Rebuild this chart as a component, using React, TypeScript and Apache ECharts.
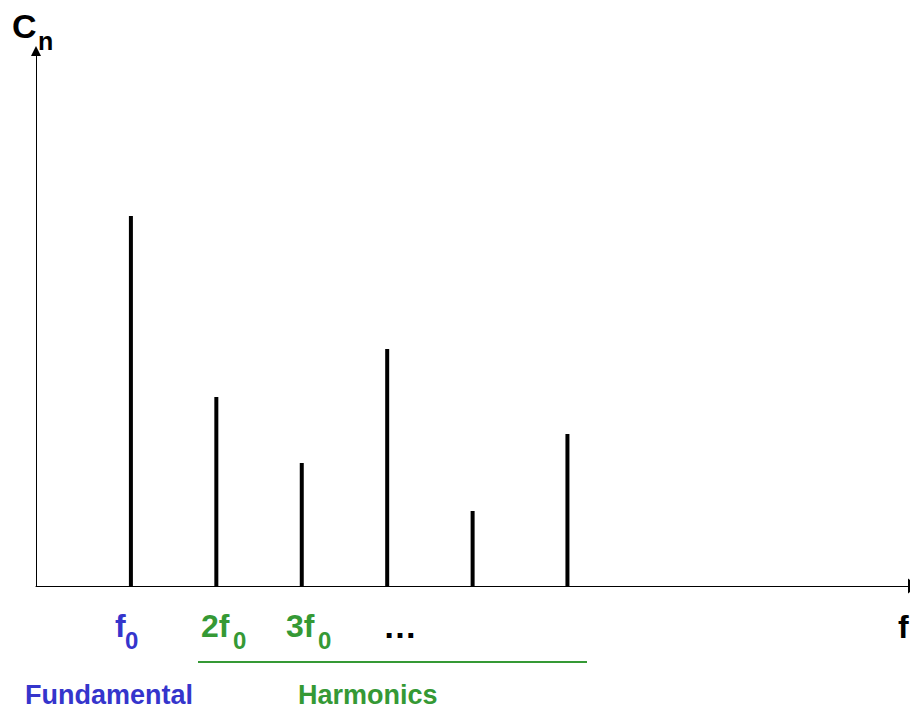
import React, { useEffect, useRef } from "react";
import * as echarts from "echarts";

// Harmonic frequencies (multiples of f0) and their amplitudes Cn
const harmonicFreqs = [1, 2, 3, 4, 5, 6.11];
const amplitudes = [3.7, 1.89, 1.23, 2.37, 0.75, 1.52];

const BLUE = "#3535CC";
const GREEN = "#359935";
const FONT = "'Liberation Sans', Arial, sans-serif";

export default function App() {
  const ref = useRef<HTMLDivElement>(null);
  useEffect(() => {
    document.body.style.margin = "0";
    const chart = echarts.init(ref.current!, null, { renderer: "svg" });
    const txt = (x: number, y: number, text: string, size: number, fill: string) => ({
      type: "text",
      x,
      y,
      style: {
        text,
        fontSize: size,
        fontWeight: "bold",
        fontFamily: FONT,
        fill,
        align: "left",
        verticalAlign: "middle",
        lineHeight: Math.round(size * 0.8),
      },
    });
    chart.setOption({
      animation: false,
      grid: { left: 36, right: 0, top: 51, bottom: 123 },
      xAxis: {
        type: "value",
        min: -0.111,
        max: 10.12,
        axisLine: {
          show: true,
          onZero: false,
          symbol: ["none", "triangle"],
          symbolSize: [15, 10],
          symbolOffset: [0, 3],
          lineStyle: { color: "#000", width: 1 },
        },
        axisTick: { show: false },
        axisLabel: { show: false },
        splitLine: { show: false },
      },
      yAxis: {
        type: "value",
        min: 0,
        max: 5.35,
        axisLine: {
          show: true,
          onZero: false,
          symbol: ["none", "triangle"],
          symbolSize: [10, 10],
          lineStyle: { color: "#000", width: 1 },
        },
        axisTick: { show: false },
        axisLabel: { show: false },
        splitLine: { show: false },
      },
      series: [
        {
          type: "bar",
          barWidth: 4,
          itemStyle: { color: "#000" },
          data: harmonicFreqs.map((f, i) => [f, amplitudes[i]]),
        },
      ],
      graphic: [
        txt(12, 25.5, "C", 34, "#000"),
        txt(38, 41, "n", 25, "#000"),
        txt(898, 627, "f", 32, "#000"),
        txt(115, 626, "f", 32, BLUE),
        txt(125, 640, "0", 24, BLUE),
        txt(201, 626, "2f", 32, GREEN),
        txt(233, 640, "0", 24, GREEN),
        txt(286, 626, "3f", 32, GREEN),
        txt(318, 640, "0", 24, GREEN),
        txt(383, 626, "\u2026", 34, "#000"),
        {
          type: "line",
          shape: { x1: 198, y1: 662, x2: 587, y2: 662 },
          style: { stroke: GREEN, lineWidth: 2 },
        },
        txt(25, 695, "Fundamental", 27, BLUE),
        txt(298, 695, "Harmonics", 27, GREEN),
      ],
    });
    return () => chart.dispose();
  }, []);
  return (
    <div
      ref={ref}
      style={{ position: "fixed", left: 0, top: 0, width: 910, height: 709, background: "#fff" }}
    />
  );
}
